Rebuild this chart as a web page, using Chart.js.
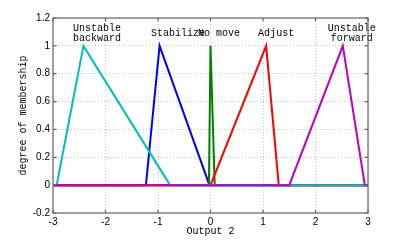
<!DOCTYPE html>
<html><head><meta charset="utf-8">
<script src="https://cdn.jsdelivr.net/npm/chart.js@4/dist/chart.umd.min.js"></script>
<style>html,body{margin:0;padding:0;background:#fff;overflow:hidden}#wrap{width:407px;height:240px;position:relative}</style>
</head><body><div id="wrap"><canvas id="c"></canvas></div>
<script>
// ---- data ----
const mfNames = ['Unstable backward', 'Stabilize', 'No move', 'Adjust', 'Unstable forward'];
const labelLines = [['Unstable', 'backward'], ['Stabilize'], ['No move'], ['Adjust'], ['Unstable', 'forward']];
const xUnstableBackward = [-3, -2.93, -2.42, -0.77, 3];
const yUnstableBackward = [0, 0, 1, 0, 0];
const xStabilize = [-3, -1.23, -0.97, -0.02, 3];
const yStabilize = [0, 0, 1, 0, 0];
const xNoMove = [-3, -0.03, 0, 0.08, 3];
const yNoMove = [0, 0, 1, 0, 0];
const xAdjust = [-3, 0.0, 1.06, 1.3, 3];
const yAdjust = [0, 0, 1, 0, 0];
const xUnstableForward = [-3, 1.5, 2.52, 2.94, 3];
const yUnstableForward = [0, 0, 1, 0, 0];
const labelX = [-2.16, -0.62, 0.16, 1.25, 2.69];
const labelY = [1.09, 1.09, 1.09, 1.09, 1.09];
const xTicks = [-3, -2, -1, 0, 1, 2, 3];
const yTicks = [-0.2, 0, 0.2, 0.4, 0.6, 0.8, 1, 1.2];
const xTitle = 'Output 2';
const yTitle = 'degree of membership';

const pts = (xs, ys) => xs.map((x, i) => ({x: x, y: ys[i]}));
const seriesX = [xUnstableBackward, xStabilize, xNoMove, xAdjust, xUnstableForward];
const seriesY = [yUnstableBackward, yStabilize, yNoMove, yAdjust, yUnstableForward];
const colors = ['#00bfbf', '#0000ff', '#008000', '#ff0000', '#bf00bf'];
const orders = [2, 5, 4, 3, 1];

const datasets = mfNames.map((n, i) => ({
  label: n,
  data: pts(seriesX[i], seriesY[i]),
  borderColor: colors[i],
  backgroundColor: colors[i],
  borderWidth: 2,
  pointRadius: 0,
  tension: 0,
  fill: false,
  order: orders[i]
}));

const fmt = v => {
  const r = Math.round(v * 10) / 10;
  return String(r);
};

const decor = {
  id: 'decor',
  afterDatasetsDraw(chart) {
    const ctx = chart.ctx, a = chart.chartArea;
    const xs = chart.scales.x, ys = chart.scales.y;
    ctx.save();
    // labels
    ctx.fillStyle = '#000';
    ctx.font = '10px "Liberation Mono", "DejaVu Sans Mono", monospace';
    ctx.textAlign = 'center';
    ctx.textBaseline = 'middle';
    labelLines.forEach((lines, i) => {
      const px = xs.getPixelForValue(labelX[i]);
      const py = ys.getPixelForValue(labelY[i]);
      const lh = 9.5;
      const y0 = py - (lines.length - 1) * lh / 2;
      lines.forEach((t, k) => ctx.fillText(t, px, y0 + k * lh));
    });
    // frame
    ctx.strokeStyle = '#666';
    ctx.lineWidth = 1.2;
    ctx.strokeRect(a.left, a.top, a.right - a.left, a.bottom - a.top);
    // inward ticks
    const tl = 3.5;
    ctx.beginPath();
    xTicks.forEach(v => {
      const p = xs.getPixelForValue(v);
      ctx.moveTo(p, a.bottom); ctx.lineTo(p, a.bottom - tl);
      ctx.moveTo(p, a.top); ctx.lineTo(p, a.top + tl);
    });
    yTicks.forEach(v => {
      const p = ys.getPixelForValue(v);
      ctx.moveTo(a.left, p); ctx.lineTo(a.left + tl, p);
      ctx.moveTo(a.right, p); ctx.lineTo(a.right - tl, p);
    });
    ctx.stroke();
    ctx.restore();
  }
};

new Chart(document.getElementById('c'), {
  type: 'line',
  data: { datasets: datasets },
  options: {
    responsive: true,
    maintainAspectRatio: false,
    animation: false,
    devicePixelRatio: 1,
    layout: { padding: { top: 18, right: 39, left: 0, bottom: 0 } },
    plugins: { legend: { display: false }, tooltip: { enabled: false } },
    scales: {
      x: {
        type: 'linear',
        min: -3, max: 3,
        afterBuildTicks: s => { s.ticks = xTicks.map(v => ({value: v})); },
        afterFit: s => { s.height = 27; },
        ticks: {
          callback: v => fmt(v),
          color: '#000',
          padding: 3,
          maxRotation: 0,
          autoSkip: false,
          font: { family: '"Liberation Sans", Arial, sans-serif', size: 10 }
        },
        grid: { color: '#c8c8c8', lineWidth: 1, drawTicks: false },
        border: { display: false, dash: [1, 2] },
        title: {
          display: true, text: xTitle, color: '#000',
          padding: { top: 0, bottom: 3 },
          font: { family: '"Liberation Mono", monospace', size: 10 }
        }
      },
      y: {
        type: 'linear',
        min: -0.2, max: 1.2,
        afterBuildTicks: s => { s.ticks = yTicks.map(v => ({value: v})); },
        afterFit: s => { s.width = 53; },
        ticks: {
          callback: v => fmt(v),
          color: '#000',
          padding: 3,
          autoSkip: false,
          font: { family: '"Liberation Sans", Arial, sans-serif', size: 10 }
        },
        grid: { color: '#c8c8c8', lineWidth: 1, drawTicks: false },
        border: { display: false, dash: [1, 2] },
        title: {
          display: true, text: yTitle, color: '#000',
          padding: { top: 17, bottom: 0 },
          font: { family: '"Liberation Mono", monospace', size: 10 }
        }
      }
    }
  },
  plugins: [decor]
});
</script>
</body></html>
